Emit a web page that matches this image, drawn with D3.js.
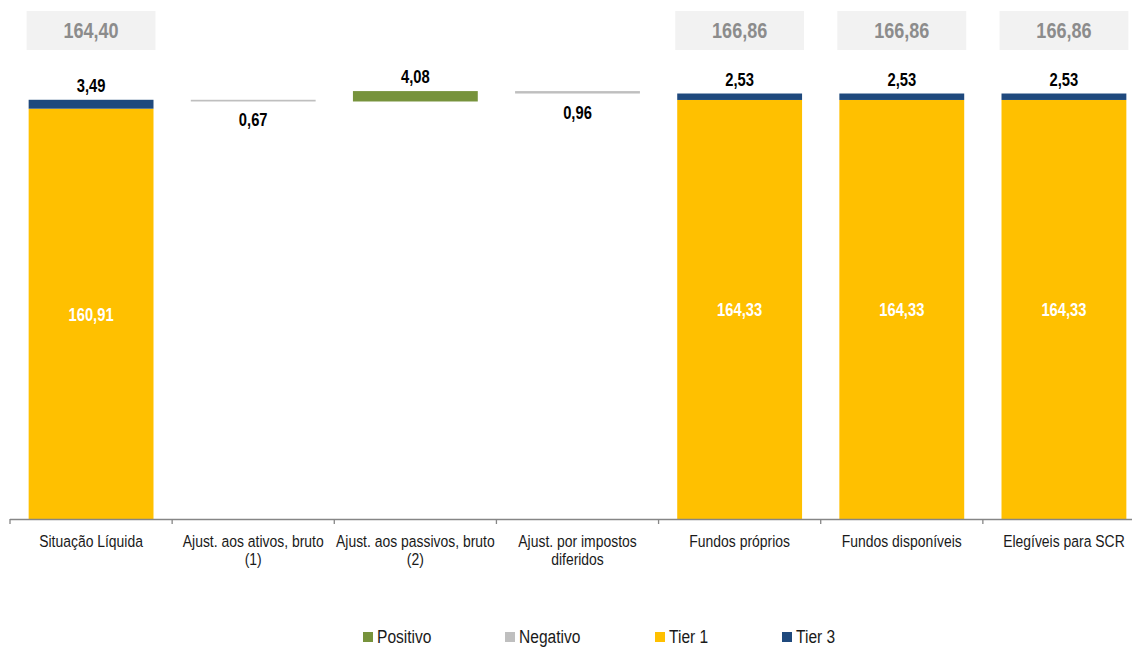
<!DOCTYPE html>
<html>
<head>
<meta charset="utf-8">
<script src="https://cdn.jsdelivr.net/npm/d3@7"></script>
<style>
  body { margin: 0; background: #fff; }
  svg text { font-family: "Liberation Sans", Arial, sans-serif; }
</style>
</head>
<body>
<div id="chart"></div>
<script>
// categories on the x axis (two-line labels split with \n)
const categories = [
  "Situação Líquida",
  "Ajust. aos ativos, bruto\n(1)",
  "Ajust. aos passivos, bruto\n(2)",
  "Ajust. por impostos\ndiferidos",
  "Fundos próprios",
  "Fundos disponíveis",
  "Elegíveis para SCR"
];

// stacked total bars (null where the column is an adjustment)
const tier1 = [160.91, null, null, null, 164.33, 164.33, 164.33];
const tier3 = [3.49, null, null, null, 2.53, 2.53, 2.53];

// waterfall adjustments (null where the column is a total)
const adjustments = [null, -0.67, 4.08, -0.96, null, null, null];

// totals shown in the grey boxes on top
const totals = [164.40, null, null, null, 166.86, 166.86, 166.86];

const legendItems = ["Positivo", "Negativo", "Tier 1", "Tier 3"];

const colors = {
  "Positivo": "#77933C",
  "Negativo": "#BFBFBF",
  "Tier 1": "#FFC000",
  "Tier 3": "#1F497D"
};

const width = 1132, height = 649;
const margin = { left: 10, right: -13, top: 8, bottom: 130 };
const narrow = 0.82; // squeeze Liberation Sans to look like Arial Narrow

const svg = d3.select('#chart').append('svg')
  .attr('width', width).attr('height', height);

const xScale = d3.scaleBand()
  .domain(categories)
  .range([margin.left, width - margin.right])
  .paddingInner(0.23)
  .paddingOuter(0.115);

const yScale = d3.scaleLinear()
  .domain([0, 200])
  .range([height - margin.bottom, height - margin.bottom - 200 * 2.55]);

const fmt = (v) => d3.format('.2f')(v).replace('.', ',');

// place a text element at x,y and squeeze it horizontally
function placeNarrow(sel, fx, fy) {
  sel.attr('transform', (d, i) => `translate(${fx(d, i)},${fy(d, i)}) scale(${narrow},1)`);
}

// build waterfall rows
let running = 0;
const rows = categories.map((c, i) => {
  if (adjustments[i] === null) {
    running = tier1[i] + tier3[i];
    return { c, type: 'total', t1: tier1[i], t3: tier3[i], total: totals[i] };
  }
  const start = running;
  running = running + adjustments[i];
  return { c, type: 'adj', start, end: running, value: adjustments[i] };
});

const cx = (d) => xScale(d.c) + xScale.bandwidth() / 2;
const g = svg.append('g');

// total bars
const totalRows = rows.filter((d) => d.type === 'total');
g.selectAll('.t1').data(totalRows).join('rect')
  .attr('x', (d) => xScale(d.c))
  .attr('width', xScale.bandwidth())
  .attr('y', (d) => yScale(d.t1))
  .attr('height', (d) => yScale(0) - yScale(d.t1))
  .attr('fill', colors['Tier 1']);

g.selectAll('.t3').data(totalRows).join('rect')
  .attr('x', (d) => xScale(d.c))
  .attr('width', xScale.bandwidth())
  .attr('y', (d) => yScale(d.t1 + d.t3))
  .attr('height', (d) => yScale(d.t1) - yScale(d.t1 + d.t3))
  .attr('fill', colors['Tier 3']);

// grey boxes with totals
g.selectAll('.box').data(totalRows).join('rect')
  .attr('x', (d) => xScale(d.c) - 2)
  .attr('width', xScale.bandwidth() + 4)
  .attr('y', 11)
  .attr('height', 39)
  .attr('fill', '#F2F2F2');

g.selectAll('.boxlabel').data(totalRows).join('text')
  .call(placeNarrow, cx, () => 38)
  .attr('text-anchor', 'middle')
  .attr('font-size', 22)
  .attr('font-weight', 'bold')
  .attr('fill', '#8C8C8C')
  .text((d) => fmt(d.total));

// tier labels
g.selectAll('.t1label').data(totalRows).join('text')
  .call(placeNarrow, cx, (d) => yScale(d.t1 / 2) + 7)
  .attr('text-anchor', 'middle')
  .attr('font-size', 18)
  .attr('font-weight', 'bold')
  .attr('fill', '#fff')
  .text((d) => fmt(d.t1));

g.selectAll('.t3label').data(totalRows).join('text')
  .call(placeNarrow, cx, (d) => yScale(d.t1 + d.t3) - 8)
  .attr('text-anchor', 'middle')
  .attr('font-size', 18)
  .attr('font-weight', 'bold')
  .attr('fill', '#000')
  .text((d) => fmt(d.t3));

// adjustment bars
const adjRows = rows.filter((d) => d.type === 'adj');
g.selectAll('.adj').data(adjRows).join('rect')
  .attr('x', (d) => xScale(d.c))
  .attr('width', xScale.bandwidth())
  .attr('y', (d) => yScale(Math.max(d.start, d.end)))
  .attr('height', (d) => Math.abs(yScale(d.start) - yScale(d.end)))
  .attr('fill', (d) => d.value >= 0 ? colors['Positivo'] : colors['Negativo']);

g.selectAll('.adjlabel').data(adjRows).join('text')
  .call(placeNarrow, cx, (d) => d.value >= 0 ? yScale(d.end) - 8 : yScale(d.end) + 25)
  .attr('text-anchor', 'middle')
  .attr('font-size', 18)
  .attr('font-weight', 'bold')
  .attr('fill', '#000')
  .text((d) => fmt(Math.abs(d.value)));

// x axis with ticks at category boundaries
const axisY = yScale(0);
const step = xScale.step();
const x0 = xScale(categories[0]) - xScale.paddingOuter() * step;
const ax = svg.append('g');
ax.append('line')
  .attr('x1', x0).attr('x2', width)
  .attr('y1', axisY + 0.5).attr('y2', axisY + 0.5)
  .attr('stroke', '#868686').attr('stroke-width', 1.3);
ax.selectAll('.tick').data(d3.range(categories.length + 1)).join('line')
  .attr('x1', (i) => x0 + i * step).attr('x2', (i) => x0 + i * step)
  .attr('y1', axisY).attr('y2', axisY + 5)
  .attr('stroke', '#868686').attr('stroke-width', 1.3);

ax.selectAll('.xlabel').data(categories).join('text')
  .call(placeNarrow, (d) => xScale(d) + xScale.bandwidth() / 2, () => axisY + 28)
  .attr('text-anchor', 'middle')
  .attr('font-size', 17)
  .attr('fill', '#1a1a1a')
  .each(function (d) {
    const lines = d.split('\n');
    d3.select(this).selectAll('tspan').data(lines).join('tspan')
      .attr('x', 0)
      .attr('dy', (l, i) => i === 0 ? 0 : 18)
      .text((l) => l);
  });

// legend
const legendX = [363, 505, 655, 782];
const lg = svg.append('g');
legendItems.forEach((name, i) => {
  lg.append('rect')
    .attr('x', legendX[i]).attr('y', 632)
    .attr('width', 10).attr('height', 10)
    .attr('fill', colors[name]);
  lg.append('text')
    .attr('transform', `translate(${legendX[i] + 14},643) scale(${narrow},1)`)
    .attr('font-size', 19)
    .attr('fill', '#1a1a1a')
    .text(name);
});
</script>
</body>
</html>
